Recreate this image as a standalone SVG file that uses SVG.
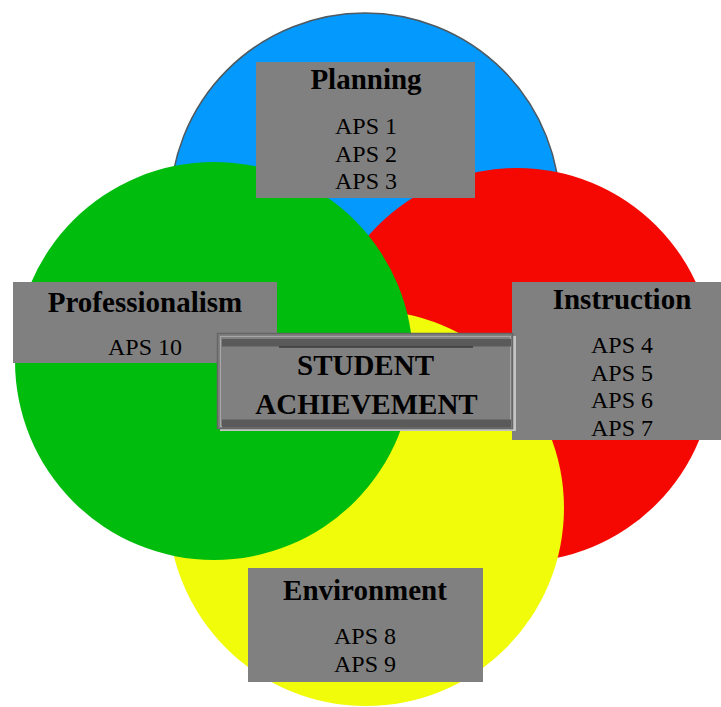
<svg xmlns="http://www.w3.org/2000/svg" width="721" height="707" viewBox="0 0 721 707">
<style>
.box{fill:#808080}
.t{font-family:"Liberation Serif","Times New Roman",serif;font-weight:bold;font-size:29px;fill:#000;text-anchor:middle}
.a{font-family:"Liberation Serif","Times New Roman",serif;font-size:24px;fill:#000;text-anchor:middle}
</style>
<rect width="721" height="707" fill="#fff"/>
<g id="circles">
<circle id="c-planning" cx="365" cy="208" r="195" fill="#0499fc" stroke="#505a60" stroke-width="1.5"/>
<circle id="c-instruction" cx="517" cy="365" r="197" fill="#f50801"/>
<circle id="c-environment" cx="366" cy="508" r="198" fill="#f0fc0a"/>
<circle id="c-professionalism" cx="214" cy="361" r="199" fill="#00bc0c"/>
</g>
<g id="planning">
<rect class="box" x="256" y="62" width="219" height="136"/>
<text class="t" x="366" y="89">Planning</text>
<text class="a" x="366" y="134">APS 1</text>
<text class="a" x="366" y="161.5">APS 2</text>
<text class="a" x="366" y="189">APS 3</text>
</g>
<g id="professionalism">
<rect class="box" x="13" y="282" width="264" height="81"/>
<text class="t" x="145" y="311.5">Professionalism</text>
<text class="a" x="145" y="355">APS 10</text>
</g>
<g id="instruction">
<rect class="box" x="512" y="282" width="209" height="158"/>
<text class="t" x="622" y="308.5">Instruction</text>
<text class="a" x="622" y="352.5">APS 4</text>
<text class="a" x="622" y="380.5">APS 5</text>
<text class="a" x="622" y="408.3">APS 6</text>
<text class="a" x="622" y="436">APS 7</text>
</g>
<g id="environment">
<rect class="box" x="248" y="568" width="235" height="114"/>
<text class="t" x="365" y="599.5">Environment</text>
<text class="a" x="365" y="644.3">APS 8</text>
<text class="a" x="365" y="671.7">APS 9</text>
</g>
<g id="student-achievement">
<rect x="220" y="336" width="296" height="95" fill="#c4c4c4"/>
<rect x="217.5" y="333.5" width="295" height="95" fill="#808080" stroke="#666" stroke-width="1.5"/>
<rect x="220.5" y="336.5" width="290" height="90" fill="none" stroke="#a8a8a8" stroke-width="1"/>
<rect x="222" y="339" width="289" height="7.5" fill="#5a5a5a"/>
<rect x="222" y="419.5" width="289" height="8" fill="#5a5a5a"/>
<line x1="279" y1="347" x2="473" y2="347" stroke="#1a1a1a" stroke-width="1"/>
<text class="t" x="365.5" y="375">STUDENT</text>
<text class="t" x="366.5" y="413.5">ACHIEVEMENT</text>
</g>
</svg>
